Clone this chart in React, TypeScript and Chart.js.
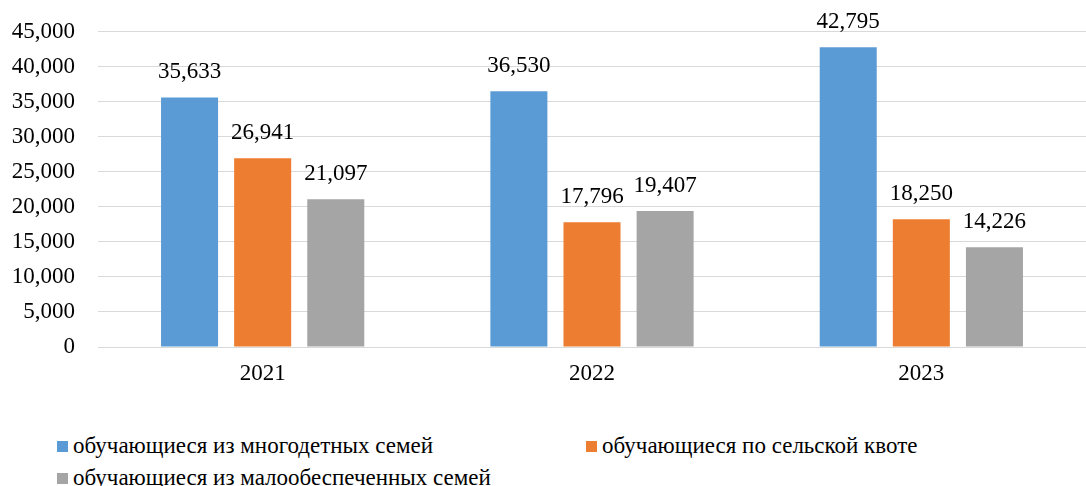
import React, { useEffect, useRef } from "react";
import { Chart, registerables } from "chart.js";

Chart.register(...registerables);

const categories = ["2021", "2022", "2023"];
const seriesNames = [
  "обучающиеся из многодетных семей",
  "обучающиеся по сельской квоте",
  "обучающиеся из малообеспеченных семей",
];
const largeFamilies = [35633, 36530, 42795];
const ruralQuota = [26941, 17796, 18250];
const lowIncome = [21097, 19407, 14226];
const colors = ["#5B9BD5", "#ED7D31", "#A5A5A5"];

const FONT = '"Liberation Serif", "Times New Roman", serif';
const FS = 23;
const fmt = (v: number) => v.toLocaleString("en-US");

const valueLabels = {
  id: "valueLabels",
  afterDatasetsDraw(chart: any) {
    const ctx = chart.ctx;
    ctx.save();
    ctx.font = `${FS}px ${FONT}`;
    ctx.fillStyle = "#000";
    ctx.textAlign = "center";
    ctx.textBaseline = "middle";
    chart.data.datasets.forEach((ds: any, i: number) => {
      const meta = chart.getDatasetMeta(i);
      meta.data.forEach((bar: any, j: number) => {
        ctx.fillText(fmt(ds.data[j]), bar.x, bar.y - 25);
      });
    });
    ctx.restore();
  },
};

export default function App() {
  const ref = useRef<HTMLCanvasElement>(null);
  useEffect(() => {
    if (!ref.current) return;
    const chart = new Chart(ref.current, {
      type: "bar",
      data: {
        labels: categories,
        datasets: [largeFamilies, ruralQuota, lowIncome].map((d, i) => ({
          label: seriesNames[i],
          data: d,
          backgroundColor: colors[i],
          borderWidth: 0,
          barPercentage: 0.78,
          categoryPercentage: 0.666,
        })),
      },
      options: {
        responsive: false,
        animation: false,
        layout: { padding: { top: 20, right: 0, left: 2, bottom: 0 } },
        plugins: { legend: { display: false }, tooltip: { enabled: false } },
        scales: {
          x: {
            grid: { display: false, drawTicks: false },
            border: { display: false },
            ticks: { font: { family: FONT, size: FS }, color: "#000", padding: 13 },
            afterFit: (s: any) => {
              s.height = 53;
            },
          },
          y: {
            min: 0,
            max: 45000,
            ticks: {
              stepSize: 5000,
              font: { family: FONT, size: FS },
              color: "#000",
              padding: 23,
              callback: (v: any) => fmt(Number(v)),
            },
            grid: { color: "#D9D9D9", lineWidth: 1, drawTicks: false },
            border: { display: false },
            afterFit: (s: any) => {
              s.width = 96;
            },
          },
        },
      },
      plugins: [valueLabels],
    });
    return () => chart.destroy();
  }, []);

  const legendItems = [
    { left: 57, top: 441 },
    { left: 586, top: 441 },
    { left: 57, top: 473 },
  ];

  return (
    <div
      style={{
        position: "fixed",
        left: 0,
        top: 0,
        width: 1086,
        height: 486,
        background: "#fff",
        overflow: "hidden",
      }}
    >
      <canvas
        ref={ref}
        width={1086}
        height={405}
        style={{ display: "block", position: "absolute", left: 0, top: -5 }}
      />
      {legendItems.map((p, i) => (
        <div key={i}>
          <div
            style={{
              position: "absolute",
              left: p.left,
              top: p.top,
              width: 11,
              height: 11,
              background: colors[i],
            }}
          />
          <div
            style={{
              position: "absolute",
              left: p.left + 16,
              top: p.top + 5.5 - 14,
              height: 26,
              lineHeight: "26px",
              fontFamily: FONT,
              fontSize: FS,
              color: "#000",
              whiteSpace: "nowrap",
            }}
          >
            {seriesNames[i]}
          </div>
        </div>
      ))}
    </div>
  );
}
